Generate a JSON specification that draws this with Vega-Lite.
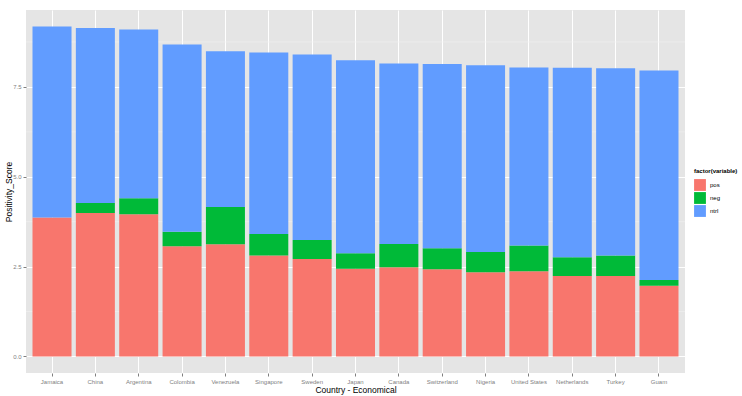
{
  "$schema": "https://vega.github.io/schema/vega-lite/v6.json",
  "width": 659,
  "height": 363,
  "autosize": {"type": "none"},
  "padding": {"left": 26, "top": 10, "right": 57, "bottom": 23},
  "background": "white",
  "config": {
    "view": {"fill": "#E5E5E5", "stroke": null},
    "font": "Liberation Sans"
  },
  "datasets": {
    "bars": [
      {"country": "Jamaica", "rank": 1, "variable": "pos", "ord": 1, "value": 3.87},
      {"country": "Jamaica", "rank": 1, "variable": "neg", "ord": 2, "value": 0.0},
      {"country": "Jamaica", "rank": 1, "variable": "ntrl", "ord": 3, "value": 5.31},
      {"country": "China", "rank": 2, "variable": "pos", "ord": 1, "value": 3.99},
      {"country": "China", "rank": 2, "variable": "neg", "ord": 2, "value": 0.28},
      {"country": "China", "rank": 2, "variable": "ntrl", "ord": 3, "value": 4.87},
      {"country": "Argentina", "rank": 3, "variable": "pos", "ord": 1, "value": 3.96},
      {"country": "Argentina", "rank": 3, "variable": "neg", "ord": 2, "value": 0.44},
      {"country": "Argentina", "rank": 3, "variable": "ntrl", "ord": 3, "value": 4.7},
      {"country": "Colombia", "rank": 4, "variable": "pos", "ord": 1, "value": 3.07},
      {"country": "Colombia", "rank": 4, "variable": "neg", "ord": 2, "value": 0.4},
      {"country": "Colombia", "rank": 4, "variable": "ntrl", "ord": 3, "value": 5.21},
      {"country": "Venezuela", "rank": 5, "variable": "pos", "ord": 1, "value": 3.12},
      {"country": "Venezuela", "rank": 5, "variable": "neg", "ord": 2, "value": 1.04},
      {"country": "Venezuela", "rank": 5, "variable": "ntrl", "ord": 3, "value": 4.33},
      {"country": "Singapore", "rank": 6, "variable": "pos", "ord": 1, "value": 2.81},
      {"country": "Singapore", "rank": 6, "variable": "neg", "ord": 2, "value": 0.6},
      {"country": "Singapore", "rank": 6, "variable": "ntrl", "ord": 3, "value": 5.05},
      {"country": "Sweden", "rank": 7, "variable": "pos", "ord": 1, "value": 2.71},
      {"country": "Sweden", "rank": 7, "variable": "neg", "ord": 2, "value": 0.53},
      {"country": "Sweden", "rank": 7, "variable": "ntrl", "ord": 3, "value": 5.16},
      {"country": "Japan", "rank": 8, "variable": "pos", "ord": 1, "value": 2.44},
      {"country": "Japan", "rank": 8, "variable": "neg", "ord": 2, "value": 0.43},
      {"country": "Japan", "rank": 8, "variable": "ntrl", "ord": 3, "value": 5.37},
      {"country": "Canada", "rank": 9, "variable": "pos", "ord": 1, "value": 2.48},
      {"country": "Canada", "rank": 9, "variable": "neg", "ord": 2, "value": 0.65},
      {"country": "Canada", "rank": 9, "variable": "ntrl", "ord": 3, "value": 5.02},
      {"country": "Switzerland", "rank": 10, "variable": "pos", "ord": 1, "value": 2.43},
      {"country": "Switzerland", "rank": 10, "variable": "neg", "ord": 2, "value": 0.58},
      {"country": "Switzerland", "rank": 10, "variable": "ntrl", "ord": 3, "value": 5.13},
      {"country": "Nigeria", "rank": 11, "variable": "pos", "ord": 1, "value": 2.34},
      {"country": "Nigeria", "rank": 11, "variable": "neg", "ord": 2, "value": 0.57},
      {"country": "Nigeria", "rank": 11, "variable": "ntrl", "ord": 3, "value": 5.19},
      {"country": "United States", "rank": 12, "variable": "pos", "ord": 1, "value": 2.37},
      {"country": "United States", "rank": 12, "variable": "neg", "ord": 2, "value": 0.72},
      {"country": "United States", "rank": 12, "variable": "ntrl", "ord": 3, "value": 4.95},
      {"country": "Netherlands", "rank": 13, "variable": "pos", "ord": 1, "value": 2.24},
      {"country": "Netherlands", "rank": 13, "variable": "neg", "ord": 2, "value": 0.52},
      {"country": "Netherlands", "rank": 13, "variable": "ntrl", "ord": 3, "value": 5.27},
      {"country": "Turkey", "rank": 14, "variable": "pos", "ord": 1, "value": 2.24},
      {"country": "Turkey", "rank": 14, "variable": "neg", "ord": 2, "value": 0.57},
      {"country": "Turkey", "rank": 14, "variable": "ntrl", "ord": 3, "value": 5.21},
      {"country": "Guam", "rank": 15, "variable": "pos", "ord": 1, "value": 1.97},
      {"country": "Guam", "rank": 15, "variable": "neg", "ord": 2, "value": 0.16},
      {"country": "Guam", "rank": 15, "variable": "ntrl", "ord": 3, "value": 5.83}
    ],
    "minor": [{"v": 1.25}, {"v": 3.75}, {"v": 6.25}, {"v": 8.75}]
  },
  "layer": [
    {
      "data": {"name": "minor"},
      "mark": {"type": "rule", "color": "#F2F2F2", "strokeWidth": 0.6},
      "encoding": {
        "y": {"field": "v", "type": "quantitative", "scale": {"domain": [-0.46, 9.64], "nice": false, "zero": false}}
      }
    },
    {
      "data": {"name": "bars"},
      "mark": {"type": "bar"},
      "encoding": {
        "x": {
          "field": "country",
          "type": "nominal",
          "sort": {"field": "rank", "op": "min"},
          "scale": {"paddingInner": 0.1, "paddingOuter": 0.15},
          "axis": {
            "title": "Country - Economical",
            "titleFontSize": 8.5,
            "titleFontWeight": "normal",
            "titleColor": "#000000",
            "titlePadding": 1,
            "labelAngle": 0,
            "labelFontSize": 6,
            "labelColor": "#7F7F7F",
            "labelPadding": 2,
            "tickColor": "#7F7F7F",
            "tickSize": 3,
            "domain": false,
            "grid": true,
            "gridColor": "#FFFFFF",
            "gridWidth": 1
          }
        },
        "y": {
          "field": "value",
          "type": "quantitative",
          "stack": "zero",
          "scale": {"domain": [-0.46, 9.64], "nice": false, "zero": false},
          "axis": {
            "title": "Positivity_Score",
            "titleFontSize": 8.5,
            "titleFontWeight": "normal",
            "titleColor": "#000000",
            "titlePadding": 0,
            "titleX": -13,
            "values": [0, 2.5, 5, 7.5],
            "format": ".1f",
            "labelFontSize": 6,
            "labelColor": "#7F7F7F",
            "labelPadding": 2,
            "tickColor": "#7F7F7F",
            "tickSize": 3,
            "domain": false,
            "grid": true,
            "gridColor": "#FFFFFF",
            "gridWidth": 1
          }
        },
        "color": {
          "field": "variable",
          "type": "nominal",
          "scale": {"domain": ["pos", "neg", "ntrl"], "range": ["#F8766D", "#00BA38", "#619CFF"]},
          "legend": {
            "title": "factor(variable)",
            "titleFontSize": 6,
            "titleFontWeight": "bold",
            "titleColor": "#000000",
            "labelFontSize": 6,
            "labelColor": "#000000",
            "symbolType": "square",
            "symbolSize": 140,
            "symbolStrokeWidth": 0,
            "symbolOpacity": 1,
            "rowPadding": 1,
            "orient": "none",
            "legendX": 668,
            "legendY": 158
          }
        },
        "order": {"field": "ord", "type": "quantitative"}
      }
    }
  ]
}
